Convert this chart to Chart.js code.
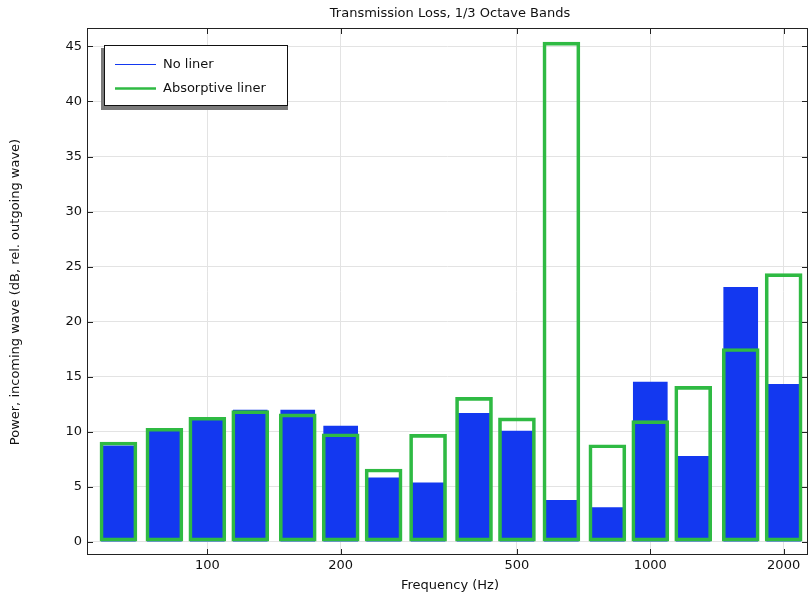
<!DOCTYPE html>
<html>
<head>
<meta charset="utf-8">
<script src="https://cdn.jsdelivr.net/npm/chart.js@4/dist/chart.umd.min.js"></script>
<style>
  html, body { margin: 0; padding: 0; background: #fff; }
  #wrap { width: 809px; height: 597px; }
</style>
</head>
<body>
<div id="wrap"><canvas id="grafica"></canvas></div>
<script>
/* ---------- datos ---------- */
const bandas = [63, 80, 100, 125, 160, 200, 250, 315, 400, 500, 630, 800, 1000, 1250, 1600, 2000];
const sinLiner = [8.7, 10.1, 11.2, 11.95, 11.95, 10.5, 5.8, 5.35, 11.65, 10.05, 3.75, 3.1, 14.5, 7.75, 23.1, 14.3];
const conLiner = [9.05, 10.3, 11.3, 11.9, 11.6, 9.8, 6.6, 9.75, 13.1, 11.25, 45.4, 8.8, 11.0, 14.1, 17.55, 24.35];
const xTicks = [100, 200, 500, 1000, 2000];
const yTicks = [0, 5, 10, 15, 20, 25, 30, 35, 40, 45];

const nombres = ["No liner", "Absorptive liner"];
const titulo = "Transmission Loss, 1/3 Octave Bands";
const tituloX = "Frequency (Hz)";
const tituloY = "Power, incoming wave (dB, rel. outgoing wave)";

const AZUL = "#1338f0";
const VERDE = "#2fba43";
const FUENTE = "13px 'DejaVu Sans'";

/* ---------- marco, ticks internos, textos, leyenda ---------- */
const decorado = {
    id: "decorado",
    afterDraw(chart) {
        const ctx = chart.ctx;
        const a = chart.chartArea;
        const sx = chart.scales.x;
        const sy = chart.scales.y;

        ctx.save();
        ctx.strokeStyle = "#222";
        ctx.lineWidth = 1;
        ctx.strokeRect(a.left + 0.5, a.top + 0.5, a.right - a.left - 1, a.bottom - a.top - 1);

        const L = 6;
        ctx.beginPath();
        xTicks.forEach(v => {
            const px = Math.round(sx.getPixelForValue(v)) + 0.5;
            ctx.moveTo(px, a.bottom); ctx.lineTo(px, a.bottom - L);
            ctx.moveTo(px, a.top); ctx.lineTo(px, a.top + L);
        });
        yTicks.forEach(v => {
            const py = Math.round(sy.getPixelForValue(v)) + 0.5;
            ctx.moveTo(a.left, py); ctx.lineTo(a.left + L, py);
            ctx.moveTo(a.right, py); ctx.lineTo(a.right - L, py);
        });
        ctx.stroke();

        // textos
        ctx.fillStyle = "#111";
        ctx.font = FUENTE;
        ctx.textAlign = "center";
        ctx.textBaseline = "middle";
        ctx.fillText(titulo, 450, 14);
        ctx.fillText(tituloX, 450, 586);

        ctx.save();
        ctx.translate(16, 292);
        ctx.rotate(-Math.PI / 2);
        ctx.fillText(tituloY, 0, 0);
        ctx.restore();

        // leyenda
        ctx.fillStyle = "#7a7a7a";
        ctx.fillRect(101, 48, 187, 62);
        ctx.fillStyle = "#fff";
        ctx.fillRect(104, 45, 184, 61);
        ctx.strokeStyle = "#111";
        ctx.lineWidth = 1;
        ctx.strokeRect(104.5, 45.5, 183, 60);

        ctx.lineWidth = 1.2;
        ctx.strokeStyle = AZUL;
        ctx.beginPath(); ctx.moveTo(115, 64.5); ctx.lineTo(156, 64.5); ctx.stroke();
        ctx.lineWidth = 2.6;
        ctx.strokeStyle = VERDE;
        ctx.beginPath(); ctx.moveTo(115, 88.5); ctx.lineTo(156, 88.5); ctx.stroke();

        ctx.fillStyle = "#111";
        ctx.textAlign = "left";
        ctx.fillText(nombres[0], 163, 65);
        ctx.fillText(nombres[1], 163, 89);
        ctx.restore();
    }
};

/* ---------- grafica ---------- */
const c = document.getElementById("grafica");

new Chart(c, {
    type: "bar",
    data: {
        datasets: [
            {
                label: nombres[1],
                data: bandas.map((f, i) => ({ x: f, y: conLiner[i] })),
                backgroundColor: "rgba(0,0,0,0)",
                borderColor: VERDE,
                borderWidth: 3,
                borderSkipped: false,
                barThickness: 37,
                grouped: false,
                order: 0
            },
            {
                label: nombres[0],
                data: bandas.map((f, i) => ({ x: f, y: sinLiner[i] })),
                backgroundColor: AZUL,
                borderWidth: 0,
                barThickness: 34,
                grouped: false,
                order: 1
            }
        ]
    },
    options: {
        responsive: true,
        maintainAspectRatio: false,
        animation: false,
        layout: { padding: { top: 28, right: 1, left: 0, bottom: 0 } },
        plugins: {
            legend: { display: false },
            tooltip: { enabled: false },
            title: { display: false }
        },
        scales: {
            x: {
                type: "logarithmic",
                offset: false,
                min: 53.5,
                max: 2270,
                afterBuildTicks: s => { s.ticks = xTicks.map(v => ({ value: v })); },
                afterFit: s => { s.height = 42; },
                ticks: {
                    autoSkip: false,
                    maxRotation: 0,
                    padding: 3,
                    color: "#111",
                    font: { family: "DejaVu Sans", size: 13 },
                    callback: v => String(v)
                },
                grid: { color: "#e3e3e3", lineWidth: 1, drawTicks: false, offset: false },
                border: { display: false }
            },
            y: {
                type: "linear",
                min: -1.22,
                max: 46.68,
                afterBuildTicks: s => { s.ticks = yTicks.map(v => ({ value: v })); },
                afterFit: s => { s.width = 87; },
                ticks: {
                    padding: 5,
                    color: "#111",
                    font: { family: "DejaVu Sans", size: 13 }
                },
                grid: { color: "#e3e3e3", lineWidth: 1, drawTicks: false },
                border: { display: false }
            }
        }
    },
    plugins: [decorado]
});
</script>
</body>
</html>
